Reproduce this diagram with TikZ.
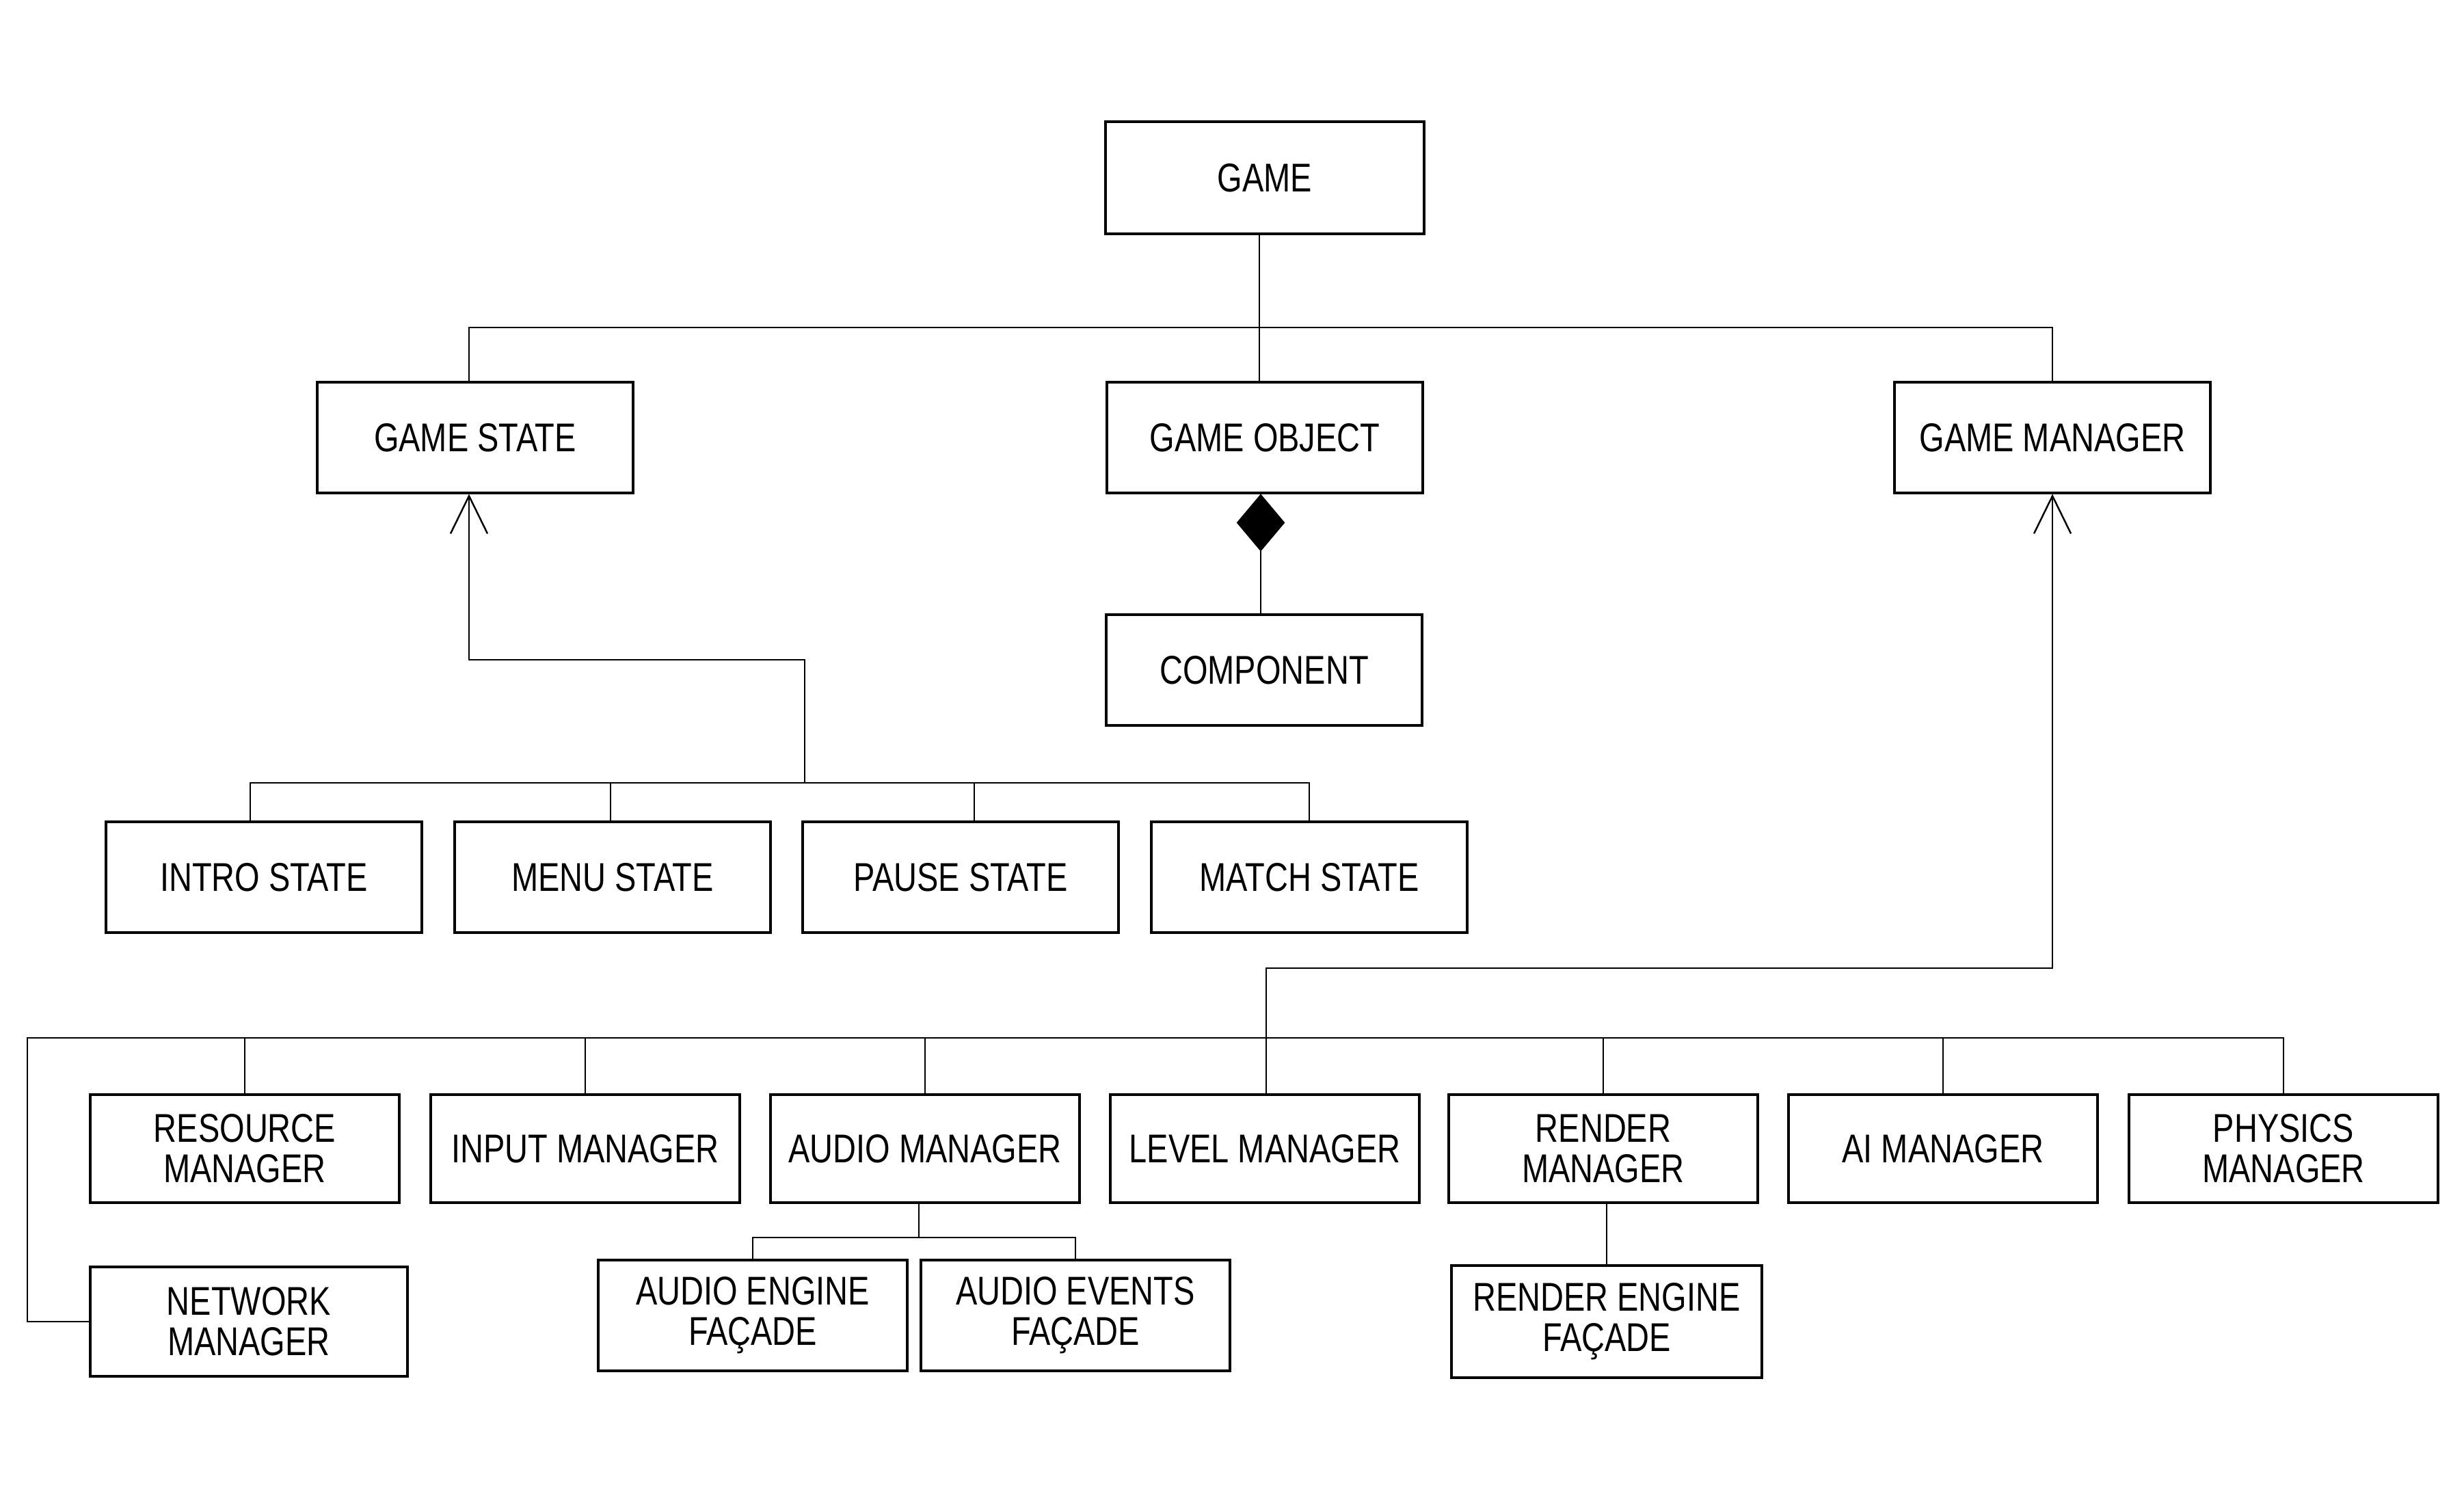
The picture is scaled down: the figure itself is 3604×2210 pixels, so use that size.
\documentclass[tikz,border=0pt]{standalone}
\usepackage{fontspec}
\setmainfont{Liberation Sans}[FakeStretch=0.8]
\usetikzlibrary{arrows.meta,shapes.geometric}
\begin{document}
\begin{tikzpicture}[x=0.01cm,y=-0.01cm,
  cls/.style={draw,line width=1.15pt,inner sep=0pt,align=center,
    minimum width=4.62cm,minimum height=1.61cm,
    font=\fontsize{16.7}{16.8}\selectfont},
  mgr/.style={cls,minimum width=4.51cm,minimum height=1.57cm},
  conn/.style={line width=0.7pt},
  inh/.style={conn,-{Straight Barb[length=5.5mm,width=5.4mm,line width=0.7pt]}},
  comp/.style={diamond,draw,fill=black,inner sep=0pt,line width=0.5pt,
    minimum width=0.69cm,minimum height=0.82cm}]
\useasboundingbox (0,0) rectangle (3604,2210);

% top level
\node[cls,minimum width=4.65cm,minimum height=1.63cm] (game) at (1850,260) {GAME};
\node[cls] (gs) at (695,640) {GAME STATE};
\node[cls] (go) at (1850,640) {GAME OBJECT};
\node[cls] (gm) at (3002,640) {GAME MANAGER};
\node[comp,anchor=north] (dia) at ([xshift=-0.06cm]go.south) {};
\node[cls] (comp) at (1849,980) {COMPONENT};

% states
\node[cls] (intro) at (386,1283) {INTRO STATE};
\node[cls] (menu) at (896,1283) {MENU STATE};
\node[cls] (pause) at (1405,1283) {PAUSE STATE};
\node[cls] (match) at (1915,1283) {MATCH STATE};

% managers
\node[mgr] (res) at (358,1680) {RESOURCE\\MANAGER};
\node[mgr] (inp) at (856,1680) {INPUT MANAGER};
\node[mgr] (aud) at (1353,1680) {AUDIO MANAGER};
\node[mgr] (lvl) at (1850,1680) {LEVEL MANAGER};
\node[mgr] (ren) at (2345,1680) {RENDER\\MANAGER};
\node[mgr] (ai) at (2842,1680) {AI MANAGER};
\node[mgr] (phy) at (3340,1680) {PHYSICS\\MANAGER};

% second row below the managers
\node[cls,minimum width=4.63cm,minimum height=1.60cm] (net) at (364,1933) {NETWORK\\MANAGER};
\node[mgr,minimum height=1.62cm] (aeng) at (1101,1924) {AUDIO ENGINE\\FAÇADE};
\node[mgr,minimum height=1.62cm] (aevt) at (1573,1924) {AUDIO EVENTS\\FAÇADE};
\node[mgr,minimum width=4.54cm,minimum height=1.63cm] (reng) at (2350,1933) {RENDER ENGINE\\FAÇADE};

% junction points
\coordinate (topbus) at (1850,479);
\coordinate (sj) at (1177,1145);
\coordinate (sk) at (1177,965);
\coordinate (mturn) at (1852,1416);
\coordinate (mbl) at (40,1518);
\coordinate (aj) at (1344,1810);

% game children
\draw[conn] ([xshift=-0.08cm]game.south) -- ([xshift=-0.08cm]go.north);
\draw[conn] ([xshift=-0.09cm]gs.north) -- ([xshift=-0.09cm]gs.north |- topbus) -- (gm.north |- topbus) -- (gm.north);
\draw[conn] (dia.south) -- (dia.south |- comp.north);

% game state hierarchy
\draw[inh] (sj) -- (sk) -| ([xshift=-0.09cm]gs.south);
\draw[conn] ([xshift=-0.2cm]intro.north) |- (sj) -| (match.north);
\draw[conn] ([xshift=-0.03cm]menu.north) -- ([xshift=-0.03cm]menu.north |- sj);
\draw[conn] ([xshift=0.2cm]pause.north) -- ([xshift=0.2cm]pause.north |- sj);

% game manager hierarchy
\draw[inh] (lvl.north -| mturn) -- (mturn) -| (gm.south);
\draw[conn] (net.west) -| (mbl) -| (phy.north);
\foreach \m in {res,inp,aud,ren,ai}
  \draw[conn] (\m.north) -- (\m.north |- mbl);

% facades
\draw[conn] (aud.south -| aj) -- (aj);
\draw[conn] (aeng.north) |- (aj) -| (aevt.north);
\draw[conn] (reng.north) -- (reng.north |- ren.south);
\end{tikzpicture}
\end{document}
